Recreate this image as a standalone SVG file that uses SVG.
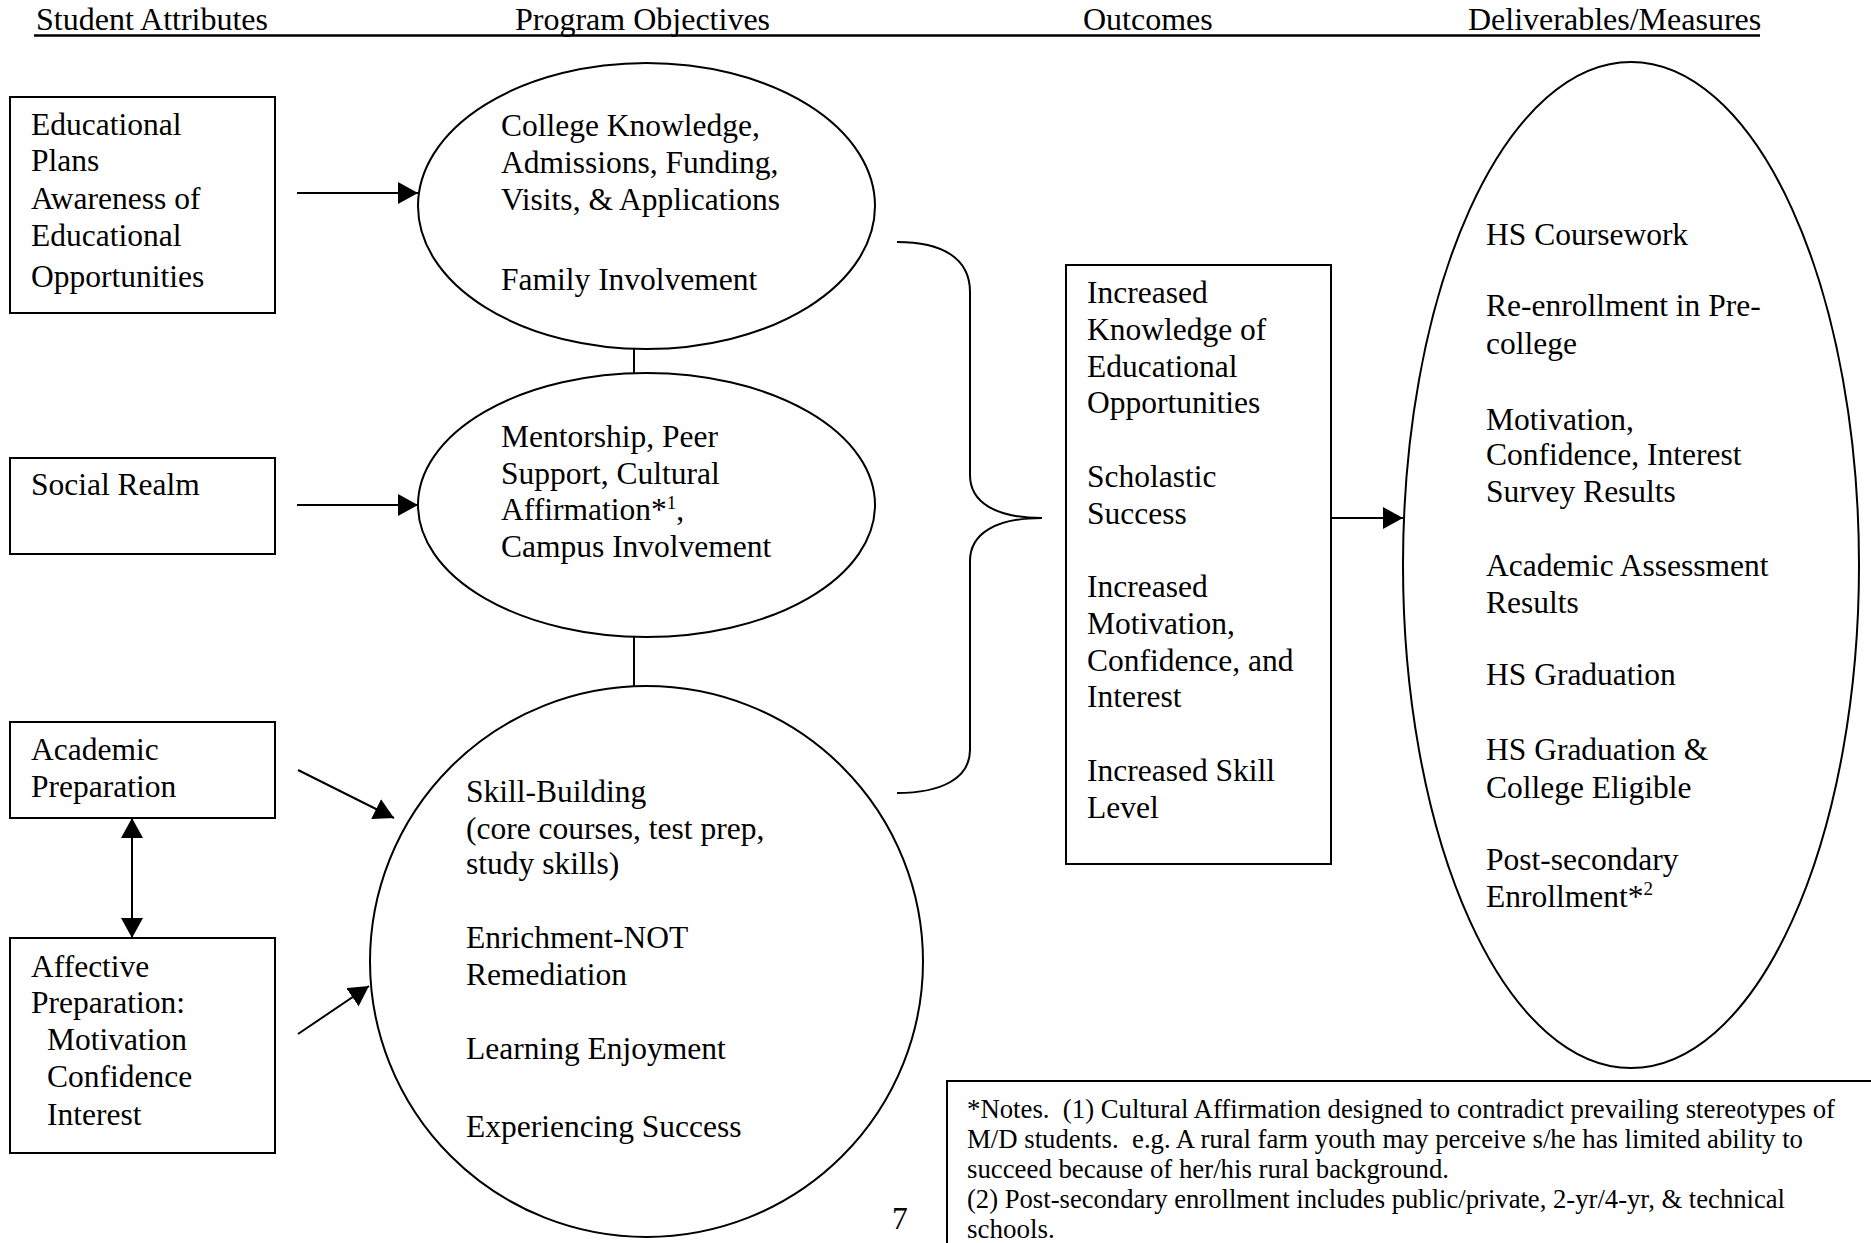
<svg xmlns="http://www.w3.org/2000/svg" width="1871" height="1243" viewBox="0 0 1871 1243">
<style>
text{font-family:"Liberation Serif","Times New Roman",serif;font-size:31.5px;fill:#000}
.hdr{font-size:32px}
.note{font-size:27px;white-space:pre}
.box{fill:#fff;stroke:#000;stroke-width:2}
.ell{fill:#fff;stroke:#000;stroke-width:2}
.ln{fill:none;stroke:#000;stroke-width:2}
.sup{font-size:19px}
</style>
<defs>
<marker id="ah" viewBox="0 0 20 22" refX="20" refY="11" markerWidth="20" markerHeight="22" markerUnits="userSpaceOnUse" orient="auto-start-reverse">
<path d="M0,0 L20,11 L0,22 z" fill="#000"/>
</marker>
</defs>
<rect width="1871" height="1243" fill="#fff"/>
<g id="headers">
<text class="hdr" x="36" y="30">Student Attributes</text>
<text class="hdr" x="515" y="30">Program Objectives</text>
<text class="hdr" x="1083" y="30">Outcomes</text>
<text class="hdr" x="1468" y="30">Deliverables/Measures</text>
<line x1="34" y1="35.5" x2="1760" y2="35.5" stroke="#000" stroke-width="2.5"/>
</g>
<g id="connectors">
<line class="ln" x1="297" y1="193" x2="418" y2="193" marker-end="url(#ah)"/>
<line class="ln" x1="297" y1="505" x2="418" y2="505" marker-end="url(#ah)"/>
<line class="ln" x1="298" y1="770" x2="394" y2="818" marker-end="url(#ah)"/>
<line class="ln" x1="298" y1="1034" x2="369" y2="986" marker-end="url(#ah)"/>
<line class="ln" x1="132" y1="818" x2="132" y2="938" marker-start="url(#ah)" marker-end="url(#ah)"/>
<line class="ln" x1="634" y1="349" x2="634" y2="373"/>
<line class="ln" x1="634" y1="637" x2="634" y2="686"/>
<path class="ln" d="M897,242 C942,242 970,258 970,292 L970,475 C970,502 995,518 1042,518 C995,518 970,534 970,561 L970,750 C970,778 942,793 897,793"/>
<line class="ln" x1="1331" y1="518" x2="1403" y2="518" marker-end="url(#ah)"/>
</g>
<g id="box-educational">
<rect class="box" x="10" y="97" width="265" height="216"/>
<text x="31" y="135">Educational</text>
<text x="31" y="171">Plans</text>
<text x="31" y="209">Awareness of</text>
<text x="31" y="246">Educational</text>
<text x="31" y="287">Opportunities</text>
</g>
<g id="box-social">
<rect class="box" x="10" y="458" width="265" height="96"/>
<text x="31" y="495">Social Realm</text>
</g>
<g id="box-academic">
<rect class="box" x="10" y="722" width="265" height="96"/>
<text x="31" y="760">Academic</text>
<text x="31" y="797">Preparation</text>
</g>
<g id="box-affective">
<rect class="box" x="10" y="938" width="265" height="215"/>
<text x="31" y="977">Affective</text>
<text x="31" y="1013">Preparation:</text>
<text x="47" y="1050">Motivation</text>
<text x="47" y="1087">Confidence</text>
<text x="47" y="1125">Interest</text>
</g>
<g id="ellipse-college">
<ellipse class="ell" cx="646.5" cy="206" rx="228.5" ry="143"/>
<text x="501" y="136">College Knowledge,</text>
<text x="501" y="173">Admissions, Funding,</text>
<text x="501" y="210">Visits, &amp; Applications</text>
<text x="501" y="290">Family Involvement</text>
</g>
<g id="ellipse-mentorship">
<ellipse class="ell" cx="646.5" cy="505" rx="228.5" ry="132"/>
<text x="501" y="447">Mentorship, Peer</text>
<text x="501" y="484">Support, Cultural</text>
<text x="501" y="520">Affirmation*<tspan class="sup" dy="-11">1</tspan><tspan dy="11">,</tspan></text>
<text x="501" y="557">Campus Involvement</text>
</g>
<g id="ellipse-skill">
<ellipse class="ell" cx="646.5" cy="961.5" rx="276.5" ry="275.5"/>
<text x="466" y="802">Skill-Building</text>
<text x="466" y="839">(core courses, test prep,</text>
<text x="466" y="874">study skills)</text>
<text x="466" y="948">Enrichment-NOT</text>
<text x="466" y="985">Remediation</text>
<text x="466" y="1059">Learning Enjoyment</text>
<text x="466" y="1137">Experiencing Success</text>
</g>
<g id="box-outcomes">
<rect class="box" x="1066" y="265" width="265" height="599"/>
<text x="1087" y="303">Increased</text>
<text x="1087" y="340">Knowledge of</text>
<text x="1087" y="377">Educational</text>
<text x="1087" y="413">Opportunities</text>
<text x="1087" y="487">Scholastic</text>
<text x="1087" y="524">Success</text>
<text x="1087" y="597">Increased</text>
<text x="1087" y="634">Motivation,</text>
<text x="1087" y="671">Confidence, and</text>
<text x="1087" y="707">Interest</text>
<text x="1087" y="781">Increased Skill</text>
<text x="1087" y="818">Level</text>
</g>
<g id="ellipse-deliverables">
<ellipse class="ell" cx="1631" cy="565" rx="228" ry="503"/>
<text x="1486" y="245">HS Coursework</text>
<text x="1486" y="316">Re-enrollment in Pre-</text>
<text x="1486" y="354">college</text>
<text x="1486" y="430">Motivation,</text>
<text x="1486" y="465">Confidence, Interest</text>
<text x="1486" y="502">Survey Results</text>
<text x="1486" y="576">Academic Assessment</text>
<text x="1486" y="613">Results</text>
<text x="1486" y="685">HS Graduation</text>
<text x="1486" y="760">HS Graduation &amp;</text>
<text x="1486" y="798">College Eligible</text>
<text x="1486" y="870">Post-secondary</text>
<text x="1486" y="907">Enrollment*<tspan class="sup" dy="-12">2</tspan></text>
</g>
<g id="notes">
<rect class="box" x="947" y="1081" width="940" height="200"/>
<text class="note" xml:space="preserve" x="967" y="1118" textLength="868" lengthAdjust="spacingAndGlyphs">*Notes.  (1) Cultural Affirmation designed to contradict prevailing stereotypes of</text>
<text class="note" xml:space="preserve" x="967" y="1148" textLength="836" lengthAdjust="spacingAndGlyphs">M/D students.  e.g. A rural farm youth may perceive s/he has limited ability to</text>
<text class="note" x="967" y="1178" textLength="482" lengthAdjust="spacingAndGlyphs">succeed because of her/his rural background.</text>
<text class="note" x="967" y="1208" textLength="818" lengthAdjust="spacingAndGlyphs">(2) Post-secondary enrollment includes public/private, 2-yr/4-yr, &amp; technical</text>
<text class="note" x="967" y="1238">schools.</text>
</g>
<g id="page-number">
<text x="892" y="1229">7</text>
</g>
</svg>
